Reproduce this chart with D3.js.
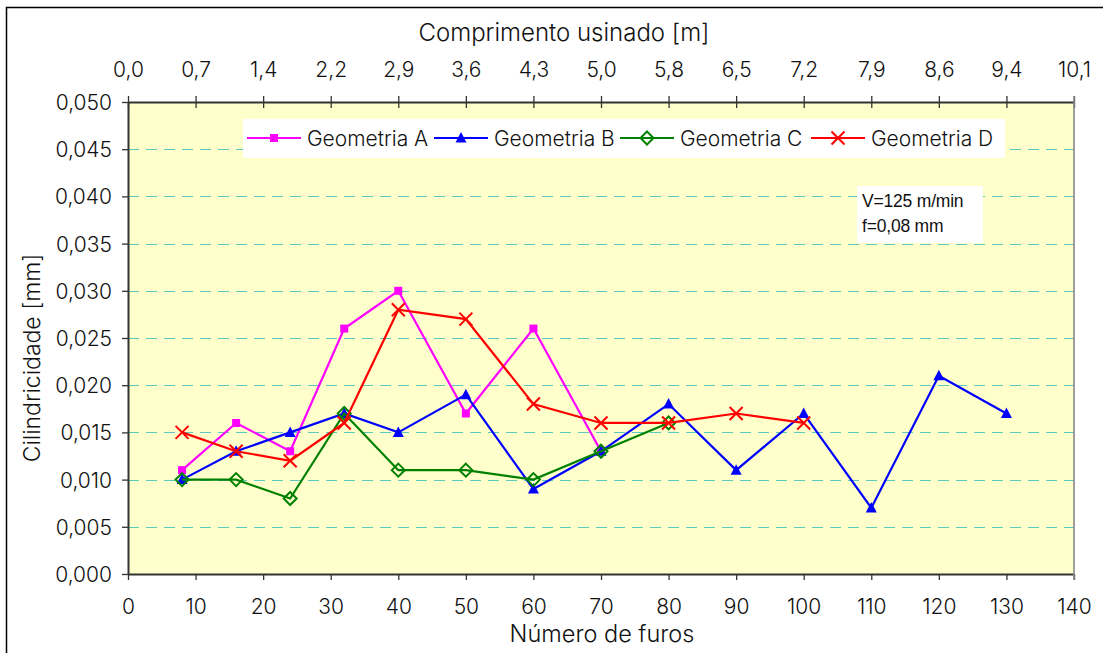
<!DOCTYPE html>
<html>
<head>
<meta charset="utf-8">
<script src="https://cdn.jsdelivr.net/npm/d3@7"></script>
<style>
  html, body { margin: 0; padding: 0; background: #fff; }
  svg { display: block; }
  text { font-family: Inter, "Noto Sans", sans-serif; font-weight: 300; fill: #111; }
</style>
</head>
<body>
<svg id="chart" width="1103" height="653"></svg>
<script>
// Hole count (x) for every measurement
const furos = [8, 16, 24, 32, 40, 50, 60, 70, 80, 90, 100, 110, 120, 130];

// Cylindricity [mm] for each tool geometry
const geometriaA = [0.011, 0.016, 0.013, 0.026, 0.030, 0.017, 0.026, 0.013];
const geometriaB = [0.010, 0.013, 0.015, 0.017, 0.015, 0.019, 0.009, 0.013, 0.018, 0.011, 0.017, 0.007, 0.021, 0.017];
const geometriaC = [0.010, 0.010, 0.008, 0.017, 0.011, 0.011, 0.010, 0.013, 0.016];
const geometriaD = [0.015, 0.013, 0.012, 0.016, 0.028, 0.027, 0.018, 0.016, 0.016, 0.017, 0.016];

// Axis ticks
const xTicks = [0, 10, 20, 30, 40, 50, 60, 70, 80, 90, 100, 110, 120, 130, 140];
const topTickLabels = ["0,0", "0,7", "1,4", "2,2", "2,9", "3,6", "4,3", "5,0", "5,8", "6,5", "7,2", "7,9", "8,6", "9,4", "10,1"];
const yTicks = [0, 0.005, 0.010, 0.015, 0.020, 0.025, 0.030, 0.035, 0.040, 0.045, 0.050];

const seriesNames = ["Geometria A", "Geometria B", "Geometria C", "Geometria D"];
const annotation = ["V=125 m/min", "f=0,08 mm"];

const svg = d3.select("#chart");
const plotL = 128, plotR = 1074, plotT = 102, plotB = 574;

const x = d3.scaleLinear().domain([0, 140]).range([plotL, plotR]);
const y = d3.scaleLinear().domain([0, 0.050]).range([plotB, plotT]);

// outer frame
svg.append("rect").attr("x", 6.5).attr("y", 7.5).attr("width", 1120).attr("height", 680)
  .attr("fill", "#fff").attr("stroke", "#000").attr("stroke-width", 1.5);

// plot background
svg.append("rect").attr("x", plotL).attr("y", plotT).attr("width", plotR - plotL).attr("height", plotB - plotT)
  .attr("fill", "#FFFFCC");

// dashed gridlines
svg.append("g").selectAll("line").data(yTicks.filter(d => d > 0 && d < 0.05)).join("line")
  .attr("x1", plotL).attr("x2", plotR)
  .attr("y1", d => Math.round(y(d)) + 0.5).attr("y2", d => Math.round(y(d)) + 0.5)
  .attr("stroke", "#5CC8C0").attr("stroke-width", 1.2).attr("stroke-dasharray", "11,7");

const fmt = d => d3.format(".3f")(d).replace(".", ",");

// left axis
const gy = svg.append("g").attr("transform", `translate(${plotL},0)`)
  .call(d3.axisLeft(y).tickValues(yTicks).tickFormat(fmt).tickSizeOuter(0).tickSizeInner(6).tickPadding(10));
// bottom axis
const gx = svg.append("g").attr("transform", `translate(0,${plotB})`)
  .call(d3.axisBottom(x).tickValues(xTicks).tickFormat(d3.format("d")).tickSizeOuter(0).tickSizeInner(6));
// top axis
const gt = svg.append("g").attr("transform", `translate(0,${plotT})`)
  .call(d3.axisTop(x).tickValues(xTicks).tickFormat((d, i) => topTickLabels[i]).tickSizeOuter(0).tickSizeInner(6));
gt.selectAll(".tick line").attr("y2", 6).attr("y1", -6);

gx.selectAll(".tick text").attr("y", 40).attr("dy", 0);
gt.selectAll(".tick text").attr("y", -25).attr("dy", 0);
gy.selectAll(".tick text").attr("x", -16).attr("dy", "0.36em");

[gx, gy, gt].forEach(g => {
  g.selectAll("text").style("font-size", "21px").style("font-family", "Inter, sans-serif")
    .style("font-weight", 300).attr("fill", "#111");
  g.selectAll("line, path").attr("stroke", "#333").attr("stroke-width", 1.3);
  g.select(".domain").attr("stroke-width", 2);
});

// right edge of the plot
svg.append("line").attr("x1", plotR).attr("x2", plotR).attr("y1", plotT - 6).attr("y2", plotB + 6)
  .attr("stroke", "#888").attr("stroke-width", 1.6);

// axis titles
svg.append("text").attr("x", 564).attr("y", 41).attr("text-anchor", "middle")
  .style("font-size", "24px").text("Comprimento usinado [m]");
svg.append("text").attr("x", 602).attr("y", 642).attr("text-anchor", "middle")
  .style("font-size", "23.5px").text("Número de furos");
svg.append("text").attr("transform", "translate(40,358) rotate(-90)").attr("text-anchor", "middle")
  .style("font-size", "23px").text("Cilindricidade [mm]");

// series
const colors = ["#FF00FF", "#0000FF", "#008000", "#FF0000"];
const allSeries = [geometriaA, geometriaB, geometriaC, geometriaD];
const line = d3.line().x(d => x(d[0])).y(d => y(d[1]));

function marker(g, i, cx, cy) {
  const c = colors[i];
  if (i === 0) {
    g.append("rect").attr("x", cx - 4).attr("y", cy - 4).attr("width", 8).attr("height", 8).attr("fill", c);
  } else if (i === 1) {
    g.append("path").attr("d", `M${cx},${cy - 6}L${cx + 5.5},${cy + 4.5}L${cx - 5.5},${cy + 4.5}Z`).attr("fill", c);
  } else if (i === 2) {
    g.append("path").attr("d", `M${cx},${cy - 6.5}L${cx + 6.5},${cy}L${cx},${cy + 6.5}L${cx - 6.5},${cy}Z`)
      .attr("fill", "none").attr("stroke", c).attr("stroke-width", 2);
  } else {
    g.append("path").attr("d", `M${cx - 6.5},${cy - 6.5}L${cx + 6.5},${cy + 6.5}M${cx + 6.5},${cy - 6.5}L${cx - 6.5},${cy + 6.5}`)
      .attr("stroke", c).attr("stroke-width", 2);
  }
}

allSeries.forEach((vals, i) => {
  const pts = vals.map((v, j) => [furos[j], v]);
  const g = svg.append("g");
  g.append("path").datum(pts).attr("d", line).attr("fill", "none")
    .attr("stroke", colors[i]).attr("stroke-width", 2.2);
  pts.forEach(p => marker(g, i, x(p[0]), y(p[1])));
});

// legend
const lg = svg.append("g");
lg.append("rect").attr("x", 243).attr("y", 119).attr("width", 762).attr("height", 39).attr("fill", "#fff");
const legX = [247, 434, 620, 811];
seriesNames.forEach((name, i) => {
  const lx = legX[i], ly = 138;
  lg.append("line").attr("x1", lx).attr("x2", lx + 54).attr("y1", ly).attr("y2", ly)
    .attr("stroke", colors[i]).attr("stroke-width", 2.2);
  marker(lg, i, lx + 27, ly);
  lg.append("text").attr("x", lx + 60).attr("y", ly + 8).style("font-size", "21px").text(name);
});

// cutting conditions box
const ab = svg.append("g");
ab.append("rect").attr("x", 857).attr("y", 186).attr("width", 126).attr("height", 57).attr("fill", "#fff");
annotation.forEach((t, i) => {
  ab.append("text").attr("x", 862).attr("y", 207 + i * 25).style("font-family", "'Liberation Sans', Arial, sans-serif")
    .style("font-weight", 400).style("font-size", "17.5px").style("letter-spacing", "-0.2px").text(t);
});
</script>
</body>
</html>
